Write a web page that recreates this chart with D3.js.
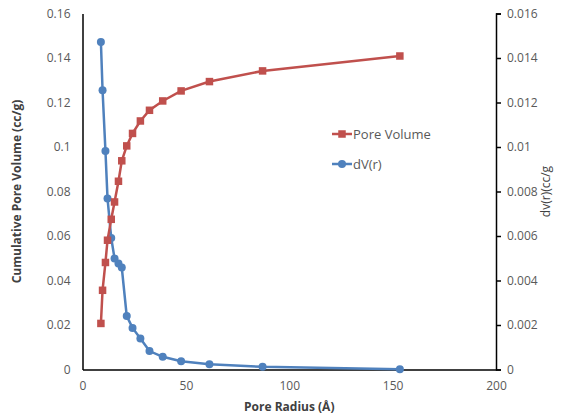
<!DOCTYPE html>
<html>
<head>
<meta charset="utf-8">
<script src="https://cdn.jsdelivr.net/npm/d3@7/dist/d3.min.js"></script>
<style>
  body { margin: 0; background: #fff; }
  text { font-family: 'Open Sans', 'Noto Sans', sans-serif; }
</style>
</head>
<body>
<div class="chart"></div>
<script>
// 孔径 (Å)
const radius = [8.9, 9.7, 11.1, 12.1, 13.9, 15.5, 17.4, 19.0, 21.4, 24.2, 28.0, 32.4, 38.8, 47.7, 61.4, 87.1, 153.5];
// 累计孔容 (cc/g)
const poreVolume = [0.0207, 0.0356, 0.0481, 0.0581, 0.0675, 0.0753, 0.0846, 0.0938, 0.1005, 0.1061, 0.1117, 0.1165, 0.1207, 0.1252, 0.1294, 0.1342, 0.1409];
// dV(r)
const dvr = [0.01472, 0.01255, 0.00982, 0.00769, 0.00591, 0.00499, 0.00476, 0.00458, 0.0024, 0.00187, 0.00139, 0.00083, 0.00057, 0.00037, 0.00024, 0.00012, 0.00001];

const xTicks = [0, 50, 100, 150, 200];
const leftTicks = [0, 0.02, 0.04, 0.06, 0.08, 0.1, 0.12, 0.14, 0.16];
const rightTicks = [0, 0.002, 0.004, 0.006, 0.008, 0.01, 0.012, 0.014, 0.016];

const width = 562, height = 419;
const margin = { left: 82.5, right: 66, top: 13.5, bottom: 49.5 };
const red = '#c0504d', blue = '#4f81bd', labelColor = '#595959';

const svg = d3.select('.chart')
  .append('svg')
  .attr('width', width)
  .attr('height', height);

const x = d3.scaleLinear().domain([0, 200]).range([margin.left, width - margin.right]);
const yL = d3.scaleLinear().domain([0, 0.16]).range([height - margin.bottom, margin.top]);
const yR = d3.scaleLinear().domain([0, 0.016]).range([height - margin.bottom, margin.top]);

// 坐标轴
const xAxis = svg.append('g')
  .attr('transform', `translate(0,${height - margin.bottom})`)
  .call(d3.axisBottom(x).tickValues(xTicks).tickSize(0).tickPadding(12).tickFormat(d3.format('d')));

const leftAxis = svg.append('g')
  .attr('transform', `translate(${margin.left},0)`)
  .call(d3.axisLeft(yL).tickValues(leftTicks).tickSize(0).tickPadding(12).tickFormat(d => d === 0 ? '0' : String(+d.toFixed(2))));

const rightAxis = svg.append('g')
  .attr('transform', `translate(${width - margin.right},0)`)
  .call(d3.axisRight(yR).tickValues(rightTicks).tickSize(5).tickPadding(6).tickFormat(d => d === 0 ? '0' : String(+d.toFixed(3))));

[xAxis, leftAxis, rightAxis].forEach(a => {
  a.select('.domain').attr('stroke', '#000').attr('stroke-width', 1.5);
  a.selectAll('.tick line').attr('stroke', '#000').attr('stroke-width', 1.5);
  a.selectAll('.tick text').attr('fill', labelColor).style('font-size', '12px');
});

// 折线
const lineL = d3.line().x((d, i) => x(radius[i])).y(d => yL(d));
const lineR = d3.line().x((d, i) => x(radius[i])).y(d => yR(d));

svg.append('path')
  .datum(dvr)
  .attr('d', lineR)
  .attr('fill', 'none')
  .attr('stroke', blue)
  .attr('stroke-width', 2.5);

svg.append('g')
  .selectAll('circle')
  .data(dvr)
  .enter()
  .append('circle')
  .attr('cx', (d, i) => x(radius[i]))
  .attr('cy', d => yR(d))
  .attr('r', 4)
  .attr('fill', blue);

svg.append('path')
  .datum(poreVolume)
  .attr('d', lineL)
  .attr('fill', 'none')
  .attr('stroke', red)
  .attr('stroke-width', 2.5);

svg.append('g')
  .selectAll('rect')
  .data(poreVolume)
  .enter()
  .append('rect')
  .attr('x', (d, i) => x(radius[i]) - 3.75)
  .attr('y', d => yL(d) - 3.75)
  .attr('width', 7.5)
  .attr('height', 7.5)
  .attr('fill', red);

// 图例
const legend = svg.append('g').attr('transform', 'translate(332,0)');
const items = [
  { name: 'Pore Volume', color: red, shape: 'rect', y: 134 },
  { name: 'dV(r)', color: blue, shape: 'circle', y: 164 }
];
items.forEach(it => {
  legend.append('line')
    .attr('x1', 0).attr('x2', 20)
    .attr('y1', it.y).attr('y2', it.y)
    .attr('stroke', it.color).attr('stroke-width', 2.5);
  if (it.shape === 'rect') {
    legend.append('rect')
      .attr('x', 6.25).attr('y', it.y - 3.75)
      .attr('width', 7.5).attr('height', 7.5)
      .attr('fill', it.color);
  } else {
    legend.append('circle')
      .attr('cx', 10).attr('cy', it.y).attr('r', 4)
      .attr('fill', it.color);
  }
  legend.append('text')
    .attr('x', 21).attr('y', it.y)
    .attr('dy', '0.35em')
    .attr('fill', labelColor)
    .style('font-size', '13px')
    .text(it.name);
});

// 轴标题
svg.append('text')
  .attr('transform', `translate(17,${(margin.top + height - margin.bottom) / 2}) rotate(-90)`)
  .attr('text-anchor', 'middle')
  .attr('dy', '0.35em')
  .attr('fill', '#404040')
  .style('font-size', '12px')
  .style('font-weight', 'bold')
  .text('Cumulative Pore Volume (cc/g)');

svg.append('text')
  .attr('transform', `translate(546,${(margin.top + height - margin.bottom) / 2}) rotate(-90)`)
  .attr('text-anchor', 'middle')
  .attr('dy', '0.35em')
  .attr('fill', '#404040')
  .style('font-size', '12px')
  .text('dv(r)(cc/g');

svg.append('text')
  .attr('x', x(100))
  .attr('y', 407)
  .attr('text-anchor', 'middle')
  .attr('dy', '0.35em')
  .attr('fill', '#404040')
  .style('font-size', '12px')
  .style('font-weight', 'bold')
  .text('Pore Radius (Å)');
</script>
</body>
</html>
